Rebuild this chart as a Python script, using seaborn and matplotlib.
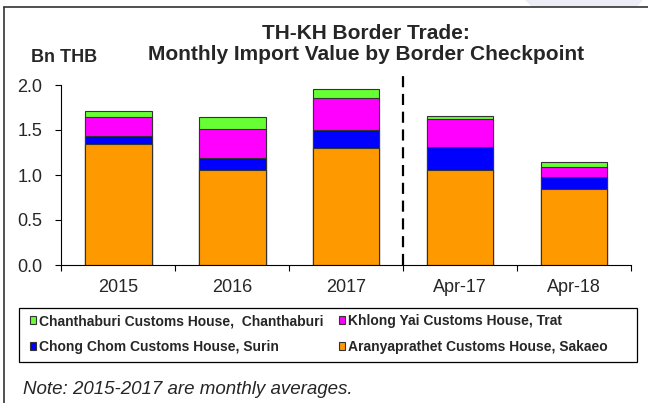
import numpy as np
import pandas as pd
import matplotlib
matplotlib.use("Agg")
import matplotlib.pyplot as plt
from matplotlib.patches import Patch, Rectangle, Polygon
from matplotlib.lines import Line2D
import seaborn as sns

# ---- data (Bn THB) ----
categories = ["2015", "2016", "2017", "Apr-17", "Apr-18"]
aranyaprathet = [1.35, 1.06, 1.30, 1.06, 0.84]   # orange
chong_chom = [0.08, 0.13, 0.20, 0.25, 0.14]      # blue
khlong_yai = [0.22, 0.32, 0.36, 0.31, 0.11]      # magenta
chanthaburi = [0.06, 0.14, 0.10, 0.04, 0.06]     # green
series_names = ["Aranyaprathet Customs House, Sakaeo",
                "Chong Chom Customs House, Surin",
                "Khlong Yai Customs House, Trat",
                "Chanthaburi Customs House,  Chanthaburi"]
series_colors = ["#FF9900", "#0000FF", "#FF00FF", "#66FF33"]
yticks = [0.0, 0.5, 1.0, 1.5, 2.0]

sns.set_style("white")
plt.rcParams["font.family"] = ["Liberation Sans", "DejaVu Sans"]

W, H = 648, 403
fig = plt.figure(figsize=(W / 100, H / 100), dpi=100)

def fx(px):
    return px / W

def fy(py):
    return 1 - py / H

ax = fig.add_axes([fx(61.3), fy(265), fx(631) - fx(61.3), fy(85) - fy(265)])

df = pd.DataFrame({"cat": categories,
                   "s0": aranyaprathet, "s1": chong_chom,
                   "s2": khlong_yai, "s3": chanthaburi})
cols = ["s0", "s1", "s2", "s3"]
cum = df[cols].cumsum(axis=1)

# draw from tallest cumulative (top series) down to the base
for i in range(3, -1, -1):
    sns.barplot(x=df["cat"], y=cum[cols[i]], color=series_colors[i],
                saturation=1, width=0.585, edgecolor="#333333",
                linewidth=0.8, errorbar=None, ax=ax, zorder=2)

ax.set_xlim(-0.5, 4.5)
ax.set_ylim(0, 2.0)
ax.set_xlabel("")
ax.set_ylabel("")
ax.set_yticks(yticks)
ax.set_yticklabels([f"{v:.1f}" for v in yticks])
ax.set_xticks(np.arange(-0.5, 5.0, 1.0))
ax.set_xticklabels([""] * 6)
ax.set_xticks(range(len(categories)), minor=True)
ax.set_xticklabels(categories, minor=True)
ax.tick_params(axis="x", which="major", length=4.5, width=0.8, direction="out",
               color="black", bottom=True)
ax.tick_params(axis="x", which="minor", length=0, pad=10, labelsize=13)
ax.tick_params(axis="y", which="major", length=4.5, width=0.8, direction="out",
               color="black", left=True, pad=9, labelsize=13)
for s in ["top", "right"]:
    ax.spines[s].set_visible(False)
for s in ["left", "bottom"]:
    ax.spines[s].set_color("black")
    ax.spines[s].set_linewidth(0.8)

# dashed separator between annual averages and monthly values
ax.plot([2.5, 2.5], [0, 2.14], color="black", lw=1.6,
        ls=(0, (5, 3)), clip_on=False, zorder=3)

# titles
fig.text(fx(366), fy(44), "TH-KH Border Trade:\nMonthly Import Value by Border Checkpoint",
         ha="center", va="center", fontsize=15, fontweight="bold", linespacing=1.15)
fig.text(fx(31), fy(58), "Bn THB", ha="left", va="center", fontsize=13,
         fontweight="bold")

# legend
order = [3, 1, 2, 0]
handles = [Patch(facecolor=series_colors[i], edgecolor="#333333", linewidth=0.8)
           for i in order]
labels = [series_names[i] for i in order]
fig.legend(handles, labels, loc="upper left", bbox_to_anchor=(fx(30), fy(314)),
           ncol=2, frameon=False, borderpad=0, borderaxespad=0,
           handlelength=0.45, handleheight=0.45, handletextpad=0.2,
           columnspacing=1.1, labelspacing=0.85,
           prop={"weight": "bold", "size": 10})
fig.add_artist(Rectangle((fx(19), fy(362)), fx(637) - fx(19), fy(308) - fy(362),
                         transform=fig.transFigure, fill=False,
                         edgecolor="black", linewidth=0.9))

fig.text(fx(23), fy(389), "Note: 2015-2017 are monthly averages.",
         ha="left", va="center", fontsize=13.5, style="italic")

# outer frame and faint watermark band
fig.add_artist(Polygon([(fx(525), fy(0)), (fx(643), fy(0)), (fx(637), fy(7)), (fx(532), fy(7))],
                       closed=True, transform=fig.transFigure,
                       facecolor="#eceef6", edgecolor="none", zorder=0))
fig.add_artist(Line2D([fx(4), fx(4)], [0, fy(7)], transform=fig.transFigure,
                      color="#333333", lw=1.2))
fig.add_artist(Line2D([fx(4), 1], [fy(7), fy(7)], transform=fig.transFigure,
                      color="#333333", lw=1.2))

fig.savefig("out.png", dpi=100)
